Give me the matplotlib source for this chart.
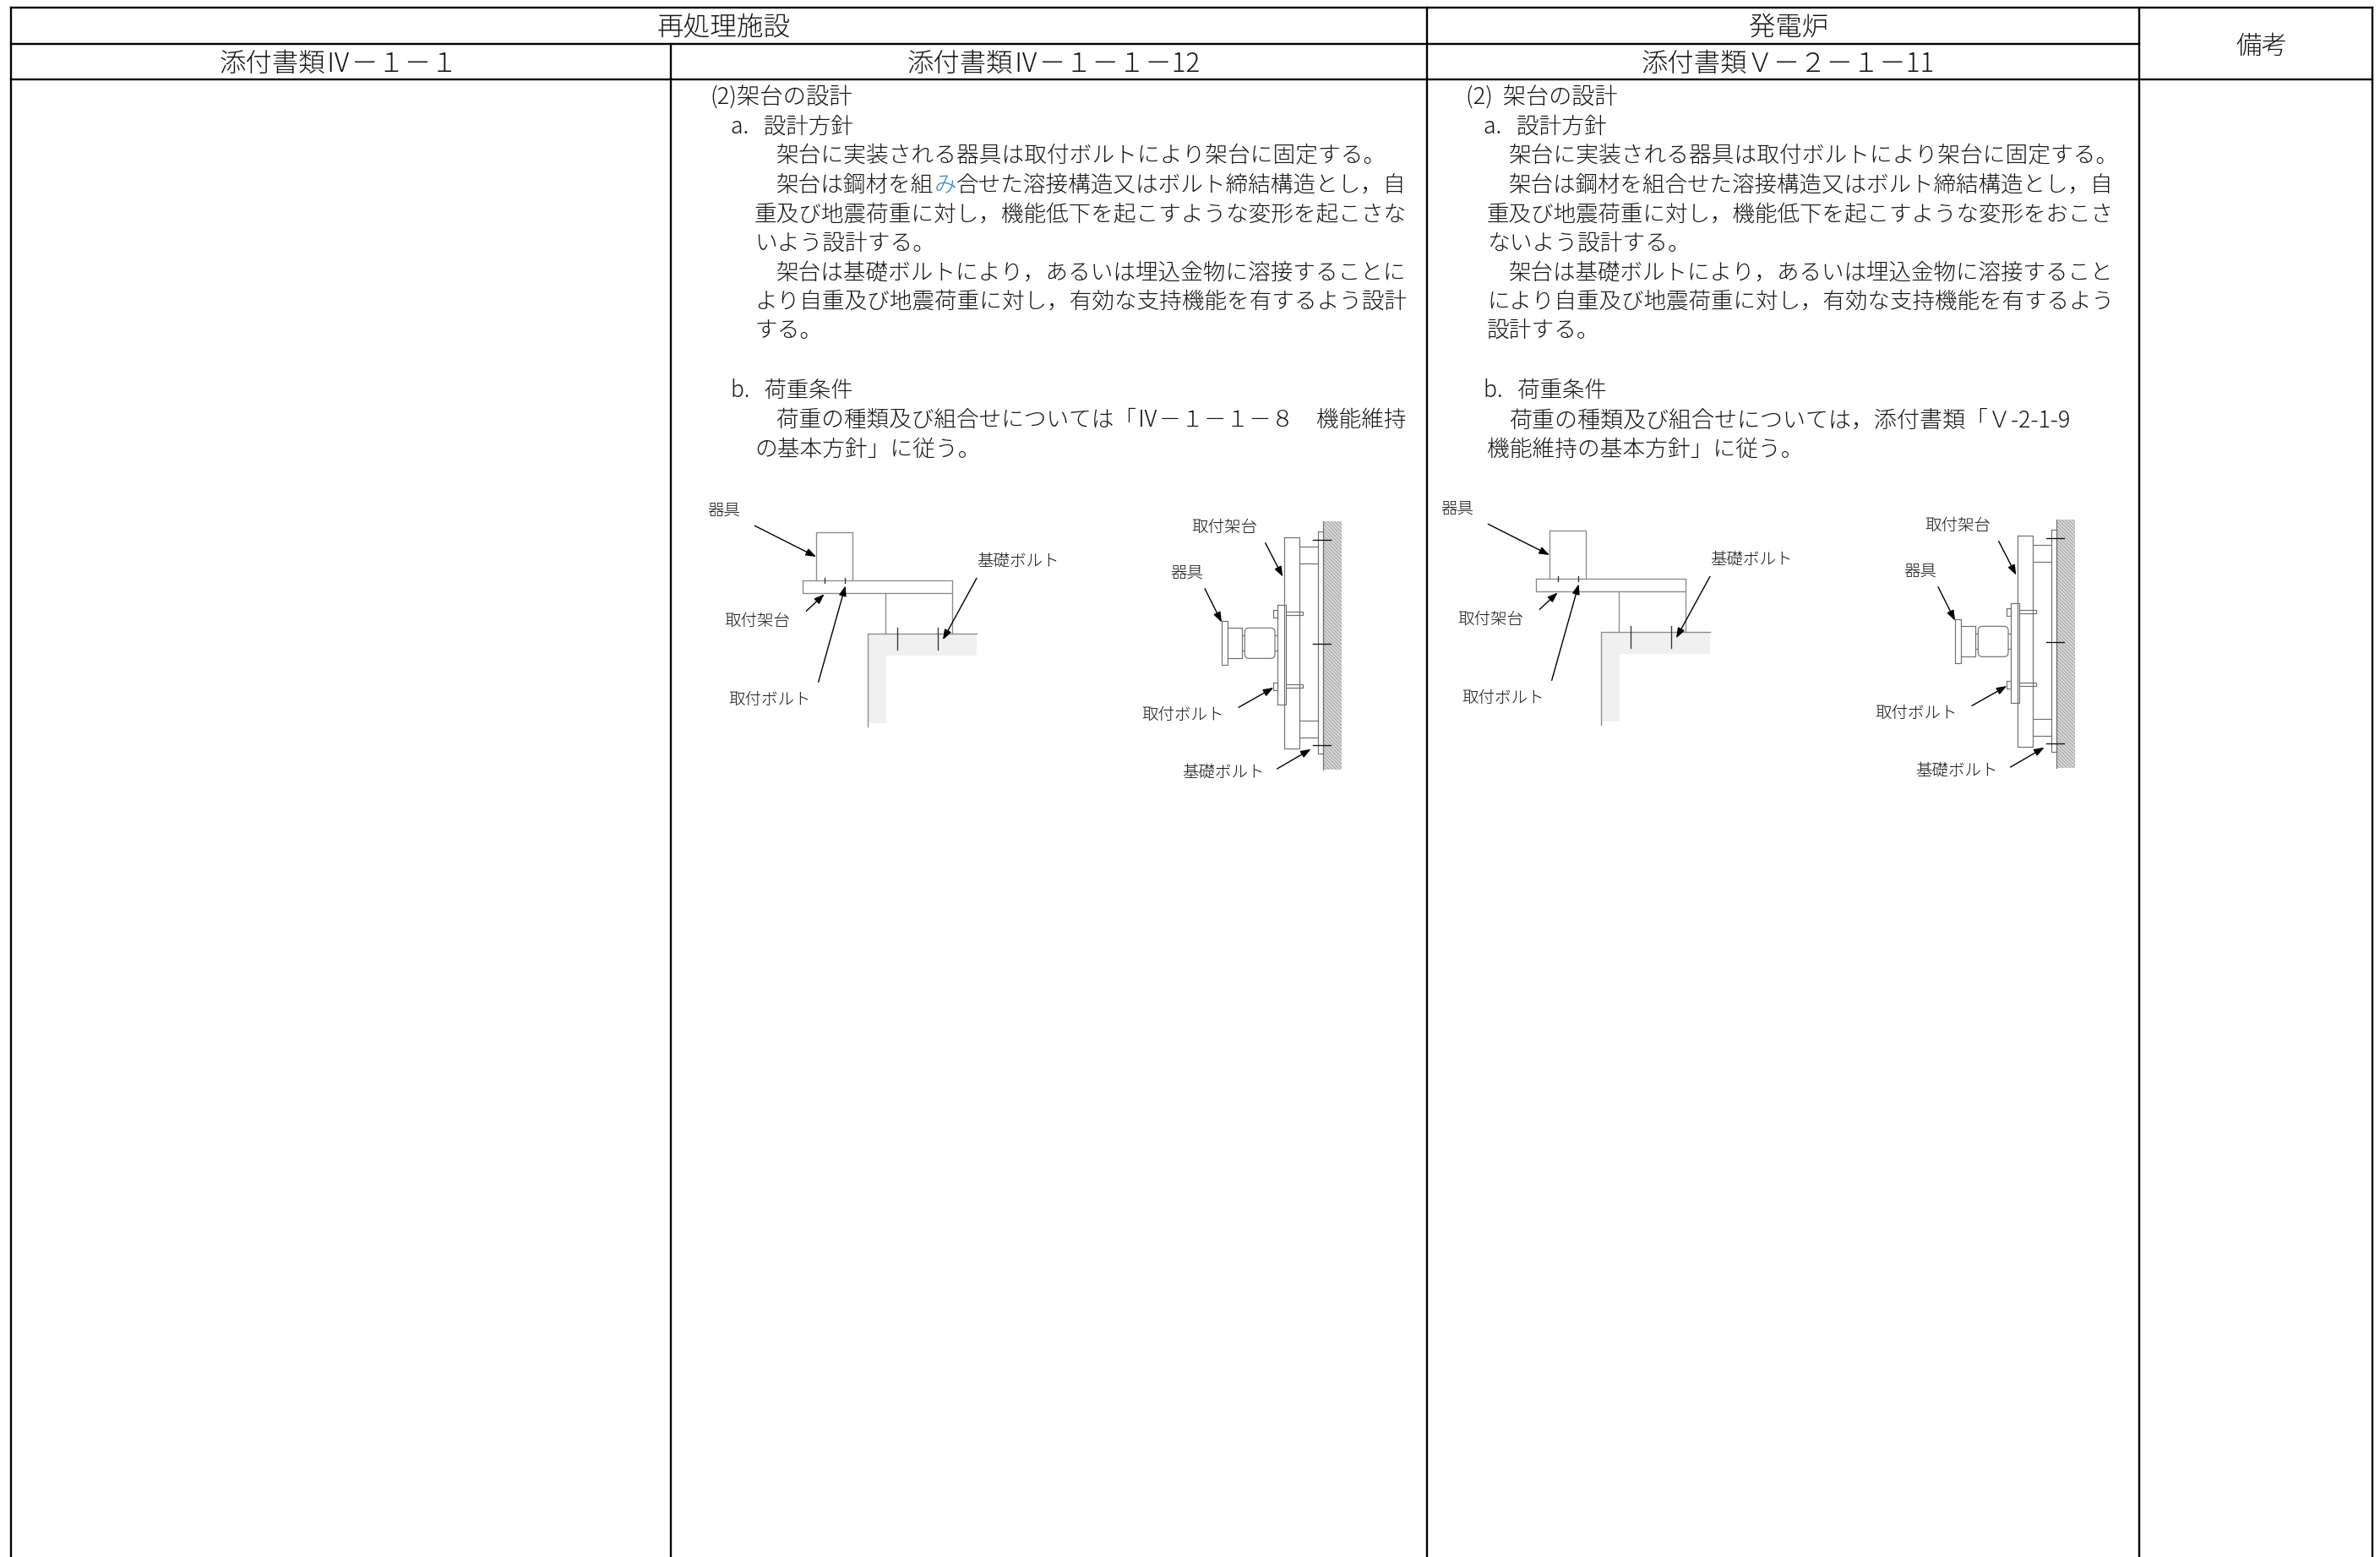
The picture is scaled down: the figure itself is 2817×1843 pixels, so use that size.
import matplotlib
matplotlib.use("Agg")
import matplotlib.pyplot as plt
from matplotlib.patches import Rectangle, Polygon, FancyBboxPatch

plt.rcParams['font.family'] = ['Noto Sans CJK JP', 'DejaVu Sans']
plt.rcParams['hatch.linewidth'] = 0.5

W, H = 2817, 1843
INK = '#141414'
BLUE = '#2f86c9'

# ---- table text ----
header_top = [("再処理施設", 857, 30, 778, 936), ("発電炉", 2117, 30, 2070, 2164), ("備考", 2676, 52, 2646, 2707)]
header_sub = [("添付書類Ⅳ\uff0d\uff11\uff0d\uff11", 260, 73, 543),
              ("添付書類Ⅳ\uff0d\uff11\uff0d\uff11\uff0d12", 1074, 73, 1421),
              ("添付書類\uff36\uff0d\uff12\uff0d\uff11\uff0d11", 1943, 73, 2290)]

# (y centre, x left, x right or None, [text pieces])
column_a = [
    (113.6, 840, 1009, ["(2)架台の設計"]),
    (148, 865, 1010, ["a.   設計方針"]),
    (182, 919, None, ["架台に実装される器具は取付ボルトにより架台に固定する。"]),
    (217, 919, 1665, ["架台は鋼材を組", "み", "合せた溶接構造又はボルト締結構造とし\uff0c自"]),
    (252, 893, 1665, ["重及び地震荷重に対し\uff0c機能低下を起こすような変形を起こさな"]),
    (286, 893, None, ["いよう設計する。"]),
    (320, 919, 1665, ["架台は基礎ボルトにより\uff0cあるいは埋込金物に溶接することに"]),
    (355, 893, 1665, ["より自重及び地震荷重に対し\uff0c有効な支持機能を有するよう設計"]),
    (389, 893, None, ["する。"]),
    (460, 865, 1010, ["b.   荷重条件"]),
    (495, 919, 1665, ["荷重の種類及び組合せについては「Ⅳ\uff0d\uff11\uff0d\uff11\uff0d\uff18\u3000機能維持"]),
    (530, 893, None, ["の基本方針」に従う。"]),
]
column_b = [
    (113.6, 1735, 1915, ["(2)  架台の設計"]),
    (148, 1756, 1902, ["a.   設計方針"]),
    (182, 1786, None, ["架台に実装される器具は取付ボルトにより架台に固定する。"]),
    (217, 1786, 2503, ["架台は鋼材を組合せた溶接構造又はボルト締結構造とし\uff0c自"]),
    (252, 1760, 2503, ["重及び地震荷重に対し\uff0c機能低下を起こすような変形をおこさ"]),
    (286, 1760, None, ["ないよう設計する。"]),
    (320, 1786, 2503, ["架台は基礎ボルトにより\uff0cあるいは埋込金物に溶接すること"]),
    (355, 1760, 2503, ["により自重及び地震荷重に対し\uff0c有効な支持機能を有するよう"]),
    (389, 1760, None, ["設計する。"]),
    (460, 1756, 1902, ["b.   荷重条件"]),
    (495, 1786, 2452, ["荷重の種類及び組合せについては\uff0c添付書類「\uff36-2-1-9"]),
    (530, 1760, None, ["機能維持の基本方針」に従う。"]),
]

# ---- table rules ----
rules = [
    ((13, 2808), (9, 9)), ((13, 2532), (52, 52)), ((13, 2808), (94, 94)),
    ((13, 13), (9, H)), ((794, 794), (52, H)), ((1689, 1689), (9, H)),
    ((2532, 2532), (9, H)), ((2808, 2808), (9, H)),
]

# ---- left diagram, crop coordinates (origin 810,570, 3x) ----
L_ORIGIN = (810, 570)
l_gray = [[(650, 541), (1038, 541), (1038, 617), (716, 617), (716, 858), (650, 858)]]
l_lines = [
    [(468, 350), (468, 180), (596, 180), (596, 350)],
    [(421, 350), (951, 350), (951, 396), (421, 396), (421, 350)],
    [(714, 396), (714, 541)], [(951, 396), (951, 541)],
    [(1038, 541), (650, 541), (650, 870)],
]
l_bolts = [[(756, 520), (756, 596)], [(900, 520), (900, 596)], [(498, 342), (498, 360)], [(570, 342), (570, 360)]]
l_arrows = [((250, 157), (468, 267)), ((433, 460), (497, 400)), ((476, 712), (572, 370)), ((1038, 343), (918, 562))]
l_labels = [("器具", 140, 96), ("取付架台", 260, 490), ("取付ボルト", 303, 770), ("基礎ボルト", 1184, 278)]

# ---- right diagram, crop coordinates (origin 1320,580, 3x) ----
R_ORIGIN = (1320, 580)
r_lines = [
    [(737, 112), (737, 992)],
    [(719, 147), (737, 147), (737, 935), (719, 935), (719, 147)],
    [(599, 167), (654, 167), (654, 917), (599, 917), (599, 167)],
    [(654, 202), (719, 202)], [(654, 262), (719, 262)],
    [(654, 820), (719, 820)], [(654, 880), (719, 880)],
    [(575, 408), (605, 408), (605, 762), (575, 762), (575, 408)],
    [(378, 466), (400, 466), (400, 622), (378, 622), (378, 466)],
    [(400, 490), (450, 490), (450, 598), (400, 598)],
    [(450, 515), (460, 515)], [(450, 570), (460, 570)],
    [(567, 515), (575, 515)], [(567, 570), (575, 570)],
    [(605, 432), (665, 432), (665, 445), (605, 445)],
    [(605, 690), (665, 690), (665, 703), (605, 703)],
    [(560, 425), (575, 425), (575, 452), (560, 452), (560, 425)],
    [(560, 683), (575, 683), (575, 710), (560, 710), (560, 683)],
]
r_bolts = [[(702, 176), (764, 176)], [(702, 547), (764, 547)], [(702, 905), (764, 905)]]
r_arrows = [((533, 188), (595, 308)), ((318, 350), (378, 470)), ((438, 772), (562, 702)), ((575, 990), (695, 920))]
r_labels = [("取付架台", 388, 127), ("器具", 254, 290), ("取付ボルト", 240, 795), ("基礎ボルト", 385, 997)]
r_wall = (737, 112, 805, 992)
r_body = (460, 490, 567, 598)

DIAGRAM_SHIFT = (868, -2)

fig = plt.figure(figsize=(W / 100, H / 100), dpi=100, facecolor='white')
ax = fig.add_axes([0, 0, 1, 1])
ax.set_xlim(0, W)
ax.set_ylim(H, 0)
ax.axis('off')
renderer = fig.canvas.get_renderer()

BODY_PX = 26.7


def line_text(y, x0, x1, pieces, px=BODY_PX):
    size = px * 0.72
    full = "".join(pieces)
    probe = ax.text(0, 0, full, fontsize=size, fontweight='light')
    width = probe.get_window_extent(renderer).width
    probe.remove()
    if x1 is not None:
        size *= (x1 - x0) / width
    base = y + 0.38 * size / 0.72
    x = x0
    for p in pieces:
        col = BLUE if p == "み" else INK
        t = ax.text(x, base, p, fontsize=size, color=col, fontweight='light', ha='left', va='baseline')
        x += t.get_window_extent(renderer).width


for xs, ys in rules:
    ax.plot(xs, ys, color='black', lw=1.7, solid_capstyle='projecting', zorder=5)

for txt, xc, y, x0, x1 in header_top:
    line_text(y, x0, x1, [txt], px=31)
for txt, x0, y, x1 in header_sub:
    line_text(y, x0, x1, [txt], px=31)
for col in (column_a, column_b):
    for y, x0, x1, pieces in col:
        line_text(y, x0, x1, pieces)


def conv(origin, shift):
    return lambda p: (origin[0] + p[0] / 3 + shift[0], origin[1] + p[1] / 3 + shift[1])


def arrow(f, a, b, color='black'):
    ax.annotate('', xy=f(b), xytext=f(a), zorder=6,
                arrowprops=dict(arrowstyle='-|>,head_length=0.6,head_width=0.22', mutation_scale=12,
                                lw=1.0, color=color, shrinkA=0, shrinkB=0))


def left_diagram(shift):
    f = conv(L_ORIGIN, shift)
    for poly in l_gray:
        ax.add_patch(Polygon([f(p) for p in poly], closed=True, fc='#f0f0f0', ec='none', zorder=1))
    for seg in l_lines:
        pts = [f(p) for p in seg]
        ax.plot(*zip(*pts), color='#8a8a8a', lw=0.95, zorder=2)
    for seg in l_bolts:
        pts = [f(p) for p in seg]
        ax.plot(*zip(*pts), color='#333333', lw=0.95, zorder=3)
    for a, b in l_arrows:
        arrow(f, a, b)
    for txt, x, y in l_labels:
        px, py = f((x, y))
        ax.text(px, py + 0.38 * 19.5, txt, fontsize=19.5 * 0.72, color=INK, fontweight='light', ha='center', va='baseline')


def right_diagram(shift):
    f = conv(R_ORIGIN, shift)
    x0, y0 = f(r_wall[:2])
    x1, y1 = f(r_wall[2:])
    ax.add_patch(Rectangle((x0, y0), x1 - x0, y1 - y0, fc='#d8d8d8', ec='#8f8f8f', lw=0, hatch='\\\\\\\\\\\\\\\\', zorder=1))
    for seg in r_lines:
        pts = [f(p) for p in seg]
        ax.plot(*zip(*pts), color='#707070', lw=0.85, zorder=2)
    bx0, by0 = f(r_body[:2])
    bx1, by1 = f(r_body[2:])
    ax.add_patch(FancyBboxPatch((bx0 + 3, by0 + 3), bx1 - bx0 - 6, by1 - by0 - 6, boxstyle='round,pad=3,rounding_size=5',
                                fc='white', ec='#707070', lw=0.85, zorder=2))
    for seg in r_bolts:
        pts = [f(p) for p in seg]
        ax.plot(*zip(*pts), color='#111111', lw=0.95, zorder=3)
    for a, b in r_arrows:
        arrow(f, a, b)
    for txt, x, y in r_labels:
        px, py = f((x, y))
        ax.text(px, py + 0.38 * 19.5, txt, fontsize=19.5 * 0.72, color=INK, fontweight='light', ha='center', va='baseline')


left_diagram((0, 0))
left_diagram(DIAGRAM_SHIFT)
right_diagram((0, 0))
right_diagram(DIAGRAM_SHIFT)

fig.savefig('out.png', dpi=100, facecolor='white')
